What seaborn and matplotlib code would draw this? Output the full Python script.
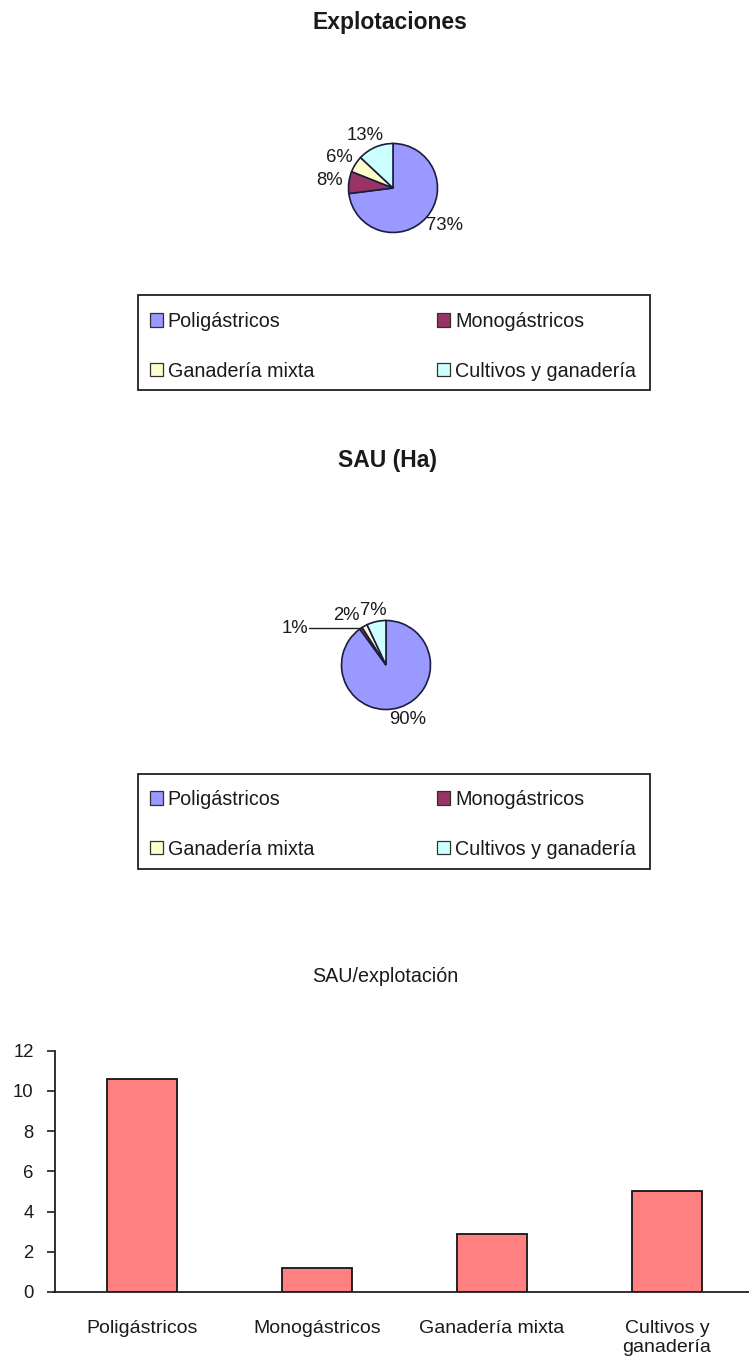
import numpy as np
import pandas as pd
import matplotlib
matplotlib.use("Agg")
import matplotlib.pyplot as plt
from matplotlib.patches import Patch, Rectangle
import seaborn as sns

# --- data -----------------------------------------------------------------
categorias = ["Poligástricos", "Monogástricos", "Ganadería mixta", "Cultivos y ganadería"]
explotaciones_pct = [73, 8, 6, 13]
sau_pct = [90, 1, 2, 7]
sau_por_explotacion = [10.6, 1.2, 2.9, 5.0]
etiquetas_barras = ["Poligástricos", "Monogástricos", "Ganadería mixta", "Cultivos y\nganadería"]
marcas_y = [0, 2, 4, 6, 8, 10, 12]
colores = ["#9999FF", "#993366", "#FFFFCC", "#CCFFFF"]
color_barra = "#FF8080"

# --- figure setup ---------------------------------------------------------
W, H = 749, 1357
sns.set_theme(style="white")
plt.rcParams["font.family"] = ["Liberation Sans", "DejaVu Sans"]
fig = plt.figure(figsize=(W / 100, H / 100), dpi=100)
fig.patch.set_facecolor("white")
renderer = fig.canvas.get_renderer()


def fx(x):
    return x / W


def fy(y):
    return 1 - y / H


TXT = "#1a1a1a"
EDGE = "#1c1c3c"


def pie_chart(cx, cy, r, values, leader_idx=None, leader_x=-1.75, nudges=None):
    """Pie starting at 12 o'clock, clockwise, with outside-end percentage labels."""
    nudges = nudges or {}
    R = 1.8 * r
    ax = fig.add_axes([fx(cx - R), fy(cy + R), 2 * R / W, 2 * R / H])
    wedges, _ = ax.pie(values, colors=colores, startangle=90, counterclock=False,
                       radius=1, wedgeprops=dict(edgecolor=EDGE, linewidth=1.2))
    ax.set_xlim(-1.8, 1.8)
    ax.set_ylim(-1.8, 1.8)
    ax.set_aspect("equal")
    ax.axis("off")
    pad = 6.0 / r
    for i, (w, v) in enumerate(zip(wedges, values)):
        ang = np.deg2rad((w.theta1 + w.theta2) / 2)
        dx, dy = np.cos(ang), np.sin(ang)
        label = f"{v}%"
        if i == leader_idx:
            ex, ey = dx, dy
            ax.plot([leader_x + 0.03, ex], [ey, ey], color="#202020", lw=1.0,
                    clip_on=False)
            ax.text(leader_x, ey, label, ha="right", va="center", fontsize=13.3,
                    color=TXT)
            continue
        t = ax.text(0, 0, label, ha="center", va="center", fontsize=13.3, color=TXT)
        bb = t.get_window_extent(renderer)
        tw, th = bb.width / r, bb.height * 0.75 / r
        nx, ny = nudges.get(i, (0.0, 0.0))
        t.set_position(((1 + pad) * dx + dx * tw / 2 + nx / r,
                        (1 + pad) * dy + dy * th / 2 + ny / r))
    return ax


def legend_block(top_y, box):
    handles = [Patch(facecolor=c, edgecolor="#303030", linewidth=0.9) for c in colores]
    # two columns filled row by row
    order = [0, 2, 1, 3]
    x0, y0, x1, y1 = box
    fig.patches.append(Rectangle((fx(x0), fy(y1)), (x1 - x0) / W, (y1 - y0) / H,
                                 transform=fig.transFigure, fill=False,
                                 edgecolor="#202020", linewidth=1.3))
    fig.legend([handles[i] for i in order], [categorias[i] for i in order],
               loc="upper left", bbox_to_anchor=(fx(150), fy(top_y)), ncol=2,
               frameon=False, fontsize=14.2, handlelength=0.65, handleheight=0.65,
               handletextpad=0.25, columnspacing=6.25, labelspacing=1.55,
               borderpad=0, borderaxespad=0, labelcolor=TXT)


# --- Explotaciones ----------------------------------------------------------
fig.text(fx(390), fy(23), "Explotaciones", ha="center", va="center",
         fontsize=16.5, fontweight="bold", color=TXT)
pie_chart(393, 188, 44.5, explotaciones_pct)
legend_block(312, (138, 295, 650, 390))

# --- SAU (Ha) -------------------------------------------------------------
fig.text(fx(388), fy(460), "SAU (Ha)", ha="center", va="center",
         fontsize=16.5, fontweight="bold", color=TXT)
pie_chart(386, 665, 44.5, sau_pct, leader_idx=1, nudges={2: (-9, 0), 3: (1, -1)})
legend_block(790, (138, 774, 650, 869))

# --- SAU/explotación bar chart ---------------------------------------------
fig.text(fx(385), fy(977), "SAU/explotación", ha="center", va="center",
         fontsize=14.2, color=TXT)
axb = fig.add_axes([fx(54.5), fy(1292), 700 / W, (1292 - 1050.5) / H])
df = pd.DataFrame({"categoria": etiquetas_barras, "valor": sau_por_explotacion})
sns.barplot(data=df, x="categoria", y="valor", ax=axb, color=color_barra,
            saturation=1, width=0.405, edgecolor="#151515", linewidth=1.3)
axb.set_xlim(-0.5, 3.5)
axb.set_ylim(0, 12)
axb.set_yticks(marcas_y)
axb.set_yticklabels([str(v) for v in marcas_y], fontsize=13.3, color=TXT)
axb.set_xticks(range(len(etiquetas_barras)))
axb.set_xticklabels(etiquetas_barras, fontsize=14.0, color=TXT, linespacing=1.15)
axb.set_xticks([0.5, 1.5, 2.5], minor=True)
axb.tick_params(axis="x", which="major", length=0, pad=20)
axb.tick_params(axis="x", which="minor", length=6, width=1.2, direction="out",
                color="#202020")
axb.tick_params(axis="y", length=6, width=1.2, direction="out", color="#202020",
                pad=9, left=True)
axb.set_xlabel("")
axb.set_ylabel("")
for s in ("top", "right"):
    axb.spines[s].set_visible(False)
for s in ("left", "bottom"):
    axb.spines[s].set_color("#202020")
    axb.spines[s].set_linewidth(1.3)
axb.set_facecolor("none")

fig.savefig("out.png", dpi=100, facecolor="white")
